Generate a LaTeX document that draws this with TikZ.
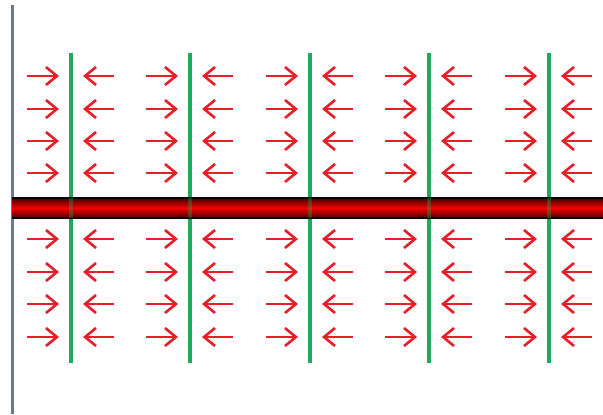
\documentclass[tikz,border=0pt]{standalone}
\usepackage{tikz}
\usetikzlibrary{arrows.meta}
\definecolor{arrowred}{RGB}{232,30,40}
\definecolor{linegreen}{RGB}{30,170,90}
\definecolor{axisgray}{RGB}{110,120,145}
\definecolor{bardark}{RGB}{70,0,0}
\begin{document}
\begin{tikzpicture}[x=0.5pt,y=-0.5pt,
  field/.style={arrowred, line width=1.3pt, -{Straight Barb[length=5.5pt,width=9pt,line width=1.3pt]}},
  wall/.style={linegreen, line width=1.7pt}]
\useasboundingbox (0,0) rectangle (603,414);
\fill[white] (0,0) rectangle (603,414);
% left edge
\draw [axisgray, line width=1.5pt] (12,5) -- (12,414);
% field arrows
\foreach \gx in {71,190,310,429,549}{
  \foreach \gy in {76,109,141,173,239,272,304,337}{
    \draw [field] (\gx-44,\gy) -- (\gx-12,\gy);
    \draw [field] (\gx+43,\gy) -- (\gx+12,\gy);
  }
}
% green lines
\foreach \gx in {71,190,310,429,549}
  \draw [wall] (\gx,53) -- (\gx,363);
% conductor bar
\shade [top color=bardark, bottom color=bardark, middle color=red!95!black]
  (12,198) rectangle (603,218);
\draw [black, line width=0.6pt] (12,198) -- (603,198) (12,218) -- (603,218);
\foreach \gx in {71,190,310,429,549}
  \draw [wall, opacity=0.35] (\gx,198) -- (\gx,218);
\end{tikzpicture}
\end{document}
